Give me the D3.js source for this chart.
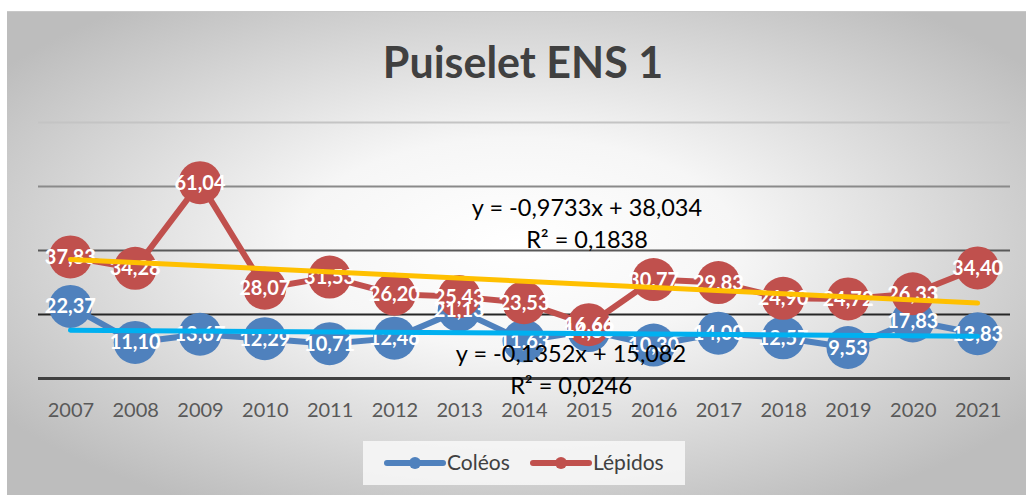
<!DOCTYPE html>
<html>
<head>
<meta charset="utf-8">
<script src="https://cdn.jsdelivr.net/npm/d3@7"></script>
<style>
  html, body { margin: 0; padding: 0; background: #fff; }
  svg { display: block; }
  text { font-family: Lato, "Open Sans", sans-serif; }
</style>
</head>
<body>
<svg id="chart" width="1026" height="495"></svg>
<script>
const title = "Puiselet ENS 1";
const years = ["2007","2008","2009","2010","2011","2012","2013","2014","2015","2016","2017","2018","2019","2020","2021"];
const coleos = [22.37, 11.10, 13.67, 12.29, 10.71, 12.46, 21.13, 11.63, 14.83, 10.30, 14.00, 12.57, 9.53, 17.83, 13.83];
const lepidos = [37.83, 34.28, 61.04, 28.07, 31.53, 26.20, 25.43, 23.53, 16.66, 30.77, 29.83, 24.90, 24.72, 26.33, 34.40];
const yTicks = [0, 20, 40, 60, 80];
const seriesNames = ["Coléos", "Lépidos"];
const trendColeos = { slope: -0.1352, intercept: 15.082, r2: "0,0246", eq: "y = -0,1352x + 15,082" };
const trendLepidos = { slope: -0.9733, intercept: 38.034, r2: "0,1838", eq: "y = -0,9733x + 38,034" };

const svg = d3.select("#chart");
const W = 1026, H = 495;

// background gradient
const defs = svg.append("defs");
const grad = defs.append("radialGradient").attr("id", "bg")
  .attr("cx", "50%").attr("cy", "48%").attr("r", "62%");
grad.append("stop").attr("offset", "0%").attr("stop-color", "#ffffff");
grad.append("stop").attr("offset", "35%").attr("stop-color", "#f6f6f6");
grad.append("stop").attr("offset", "100%").attr("stop-color", "#bdbdbd");

svg.append("rect").attr("x", 7).attr("y", 11).attr("width", W - 7).attr("height", H - 11)
  .attr("fill", "url(#bg)");
svg.append("line").attr("x1", 7).attr("x2", W).attr("y1", 11.5).attr("y2", 11.5)
  .attr("stroke", "#c8c8c8").attr("stroke-width", 1);

// title
svg.append("text").attr("x", 523).attr("y", 78).attr("text-anchor", "middle")
  .attr("font-size", 43).attr("font-weight", 700).attr("fill", "#404040").text(title);

const x = d3.scalePoint().domain(years).range([38, 1010]).padding(0.5);
const y = d3.scaleLinear().domain([0, 80]).range([378, 122]);

// gridlines
const gridStyle = { 0: ["#404040", 3], 20: ["#262626", 2], 40: ["#595959", 2], 60: ["#8a8a8a", 2], 80: ["#c4c4c4", 2] };
const yAxis = d3.axisLeft(y).tickValues(yTicks).tickSize(-(1010 - 38)).tickFormat("");
const gy = svg.append("g").attr("transform", "translate(38,0)").call(yAxis);
gy.select(".domain").remove();
gy.selectAll(".tick line")
  .attr("stroke", d => gridStyle[d][0])
  .attr("stroke-width", d => gridStyle[d][1]);

// x axis labels
const xAxis = d3.axisBottom(x).tickSize(0).tickPadding(0);
const gx = svg.append("g").attr("transform", "translate(0,378)").call(xAxis);
gx.select(".domain").remove();
gx.selectAll(".tick text")
  .attr("font-family", "Lato, 'Open Sans', sans-serif")
  .attr("font-size", 20).attr("fill", "#595959")
  .attr("dy", 0).attr("y", 39);

const line = d3.line().x((d, i) => x(years[i])).y(d => y(d));

const series = [
  { name: seriesNames[0], values: coleos, color: "#4F81BD" },
  { name: seriesNames[1], values: lepidos, color: "#C0504D" }
];

series.forEach(s => {
  svg.append("path").datum(s.values).attr("d", line)
    .attr("fill", "none").attr("stroke", s.color).attr("stroke-width", 6)
    .attr("stroke-linejoin", "round");
  svg.append("g").selectAll("circle").data(s.values).join("circle")
    .attr("cx", (d, i) => x(years[i])).attr("cy", d => y(d)).attr("r", 21.5)
    .attr("fill", s.color);
});

const fmt = v => v.toFixed(2).replace(".", ",");
series.forEach(s => {
  svg.append("g").selectAll("text").data(s.values).join("text")
    .attr("x", (d, i) => x(years[i])).attr("y", d => y(d) + 7)
    .attr("text-anchor", "middle").attr("font-size", 20).attr("font-weight", 700)
    .attr("fill", "#ffffff").text(d => fmt(d));
});

// trendlines
const trends = [
  { t: trendLepidos, color: "#FFC000" },
  { t: trendColeos, color: "#00B0F0" }
];
trends.forEach(tr => {
  const pts = years.map((yr, i) => [x(yr), y(tr.t.slope * (i + 1) + tr.t.intercept)]);
  svg.append("line")
    .attr("x1", pts[0][0]).attr("y1", pts[0][1])
    .attr("x2", pts[pts.length - 1][0]).attr("y2", pts[pts.length - 1][1])
    .attr("stroke", tr.color).attr("stroke-width", 5).attr("stroke-linecap", "round");
});

// equations
function eqLabel(t, cx, by) {
  const g = svg.append("text").attr("text-anchor", "middle").attr("font-size", 23.5).attr("fill", "#000");
  g.append("tspan").attr("x", cx).attr("y", by).text(t.eq);
  const t2 = g.append("tspan").attr("x", cx).attr("y", by + 32);
  t2.text("R² = " + t.r2);
}
eqLabel(trendLepidos, 587, 216);
eqLabel(trendColeos, 571, 362);

// legend
svg.append("rect").attr("x", 363).attr("y", 441).attr("width", 322).attr("height", 44)
  .attr("fill", "#f6f6f6").attr("opacity", 0.9);
const legendPos = [{ lx: 387, tx: 447 }, { lx: 533, tx: 593 }];
series.forEach((s, i) => {
  const p = legendPos[i];
  const ly = 463;
  svg.append("line").attr("x1", p.lx).attr("x2", p.lx + 56).attr("y1", ly).attr("y2", ly)
    .attr("stroke", s.color).attr("stroke-width", 6).attr("stroke-linecap", "round");
  svg.append("circle").attr("cx", p.lx + 28).attr("cy", ly).attr("r", 6).attr("fill", s.color);
  svg.append("text").attr("x", p.tx).attr("y", ly + 7).attr("font-size", 21)
    .attr("fill", "#404040").text(s.name);
});
</script>
</body>
</html>
